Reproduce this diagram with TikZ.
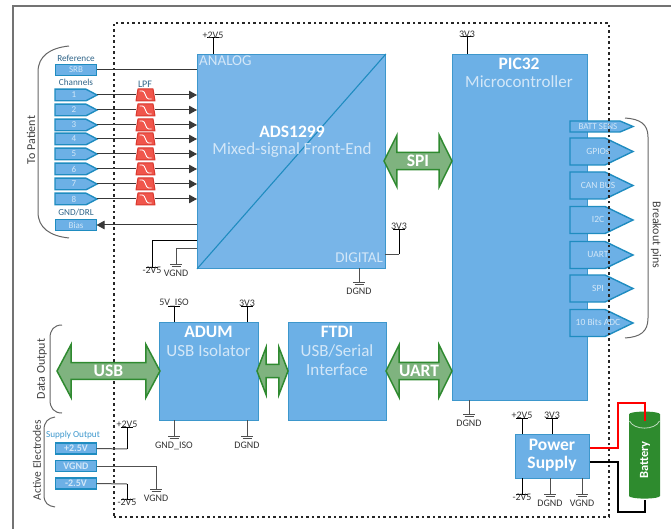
\documentclass[tikz,border=0pt]{standalone}
\usepackage{fontspec}
\setmainfont{Carlito}
\usetikzlibrary{shapes.geometric,shapes.arrows,arrows.meta,calc}
\definecolor{blockblue}{HTML}{6CB0E6}
\definecolor{adsblue}{HTML}{78B5E8}
\definecolor{edgeblue}{HTML}{3D97CC}
\definecolor{pinedge}{HTML}{1F8CC0}
\definecolor{subtext}{HTML}{D3E7F8}
\definecolor{greenfill}{HTML}{7FB37F}
\definecolor{greenedge}{HTML}{2F8A30}
\definecolor{battgreen}{HTML}{2E8B2E}
\definecolor{lpfred}{HTML}{F0564C}
\definecolor{lpfedge}{HTML}{D9382E}
\definecolor{labelblue}{HTML}{2F6488}
\definecolor{stem}{HTML}{505050}
\newcommand{\fsz}[1]{\fontsize{#1}{#1}\selectfont}
% supply rail: name, x, y of the tick, label, start point
\newcommand{\supplyrail}[5]{%
  \coordinate (#1) at (#2,#3);
  \draw[railline] (#5) -- (#1);
  \draw[railline] ([xshift=-6pt]#1) -- ([xshift=6pt]#1);
  \node[raillabel] (#1t) at ($(#1)+(0,-3)$) {#4};
}
% same, for a rail that points down: its label sits below the tick
\newcommand{\supplydown}[5]{%
  \coordinate (#1) at (#2,#3);
  \draw[railline] (#5) -- (#1);
  \draw[railline] ([xshift=-6pt]#1) -- ([xshift=6pt]#1);
  \node[raillabel] (#1t) at ($(#1)+(0,3.5)$) {#4};
}
% ground: name, x, y of the top bar, label, start point
\newcommand{\groundrail}[5]{%
  \coordinate (#1) at (#2,#3);
  \draw[gndline] (#5) -- (#1);
  \draw[gndline] ([xshift=-6pt]#1) -- ([xshift=6pt]#1);
  \draw[gndline] ([shift={(-4.5pt,-2pt)}]#1) -- ([shift={(4.5pt,-2pt)}]#1);
  \node[raillabel] (#1t) at ($(#1)+(0,9.5)$) {#4};
}
% arrow-shaped tag: name, x left, x body end, x tip, y centre, half height
\newcommand{\tagshape}[6]{%
  \draw[tagline] (#2,#5-#6) -- (#3,#5-#6) -- (#4,#5) -- (#3,#5+#6) -- (#2,#5+#6) -- cycle;
  \path (#2,#5) coordinate (#1w) (#4,#5) coordinate (#1);
}
\tikzset{
  block/.style={draw=edgeblue,line width=0.9pt,fill=blockblue,inner sep=0pt,anchor=north west},
  tagline/.style={draw=pinedge,line width=1.4pt,fill=blockblue,line join=miter},
  tagtext/.style={inner sep=0pt,text=subtext,font=\fsz{9.5}},
  flattag/.style={draw=pinedge,line width=1.4pt,fill=blockblue,inner sep=0pt,outer sep=0pt,
    minimum width=41pt,minimum height=11pt,text=subtext,font=\fsz{9}},
  lpfbox/.style={inner sep=0pt,outer sep=0pt,minimum width=19pt,minimum height=12pt},
  lpfshape/.style={draw=lpfedge,line width=1pt,fill=lpfred,line join=round},
  wire/.style={draw=stem!70!black,line width=1pt},
  railline/.style={draw=black,line width=1pt},
  gndline/.style={draw=stem,line width=1pt},
  raillabel/.style={inner sep=0pt,font=\fsz{10},text=black!80},
  sidelabel/.style={inner sep=0pt,font=\fsz{9.2},text=labelblue},
  vlabel/.style={inner sep=0pt,font=\fsz{12},text=black!75},
  brace/.style={draw=black!60,line width=1pt},
  title/.style={inner sep=0pt,font=\fsz{17.5}\bfseries,text=white},
  subtitle/.style={inner sep=0pt,font=\fsz{17},text=subtext},
  corner/.style={inner sep=0pt,font=\fsz{15},text=subtext},
  bus/.style={double arrow,draw=greenedge,line width=1.5pt,fill=greenfill,inner sep=0pt,outer sep=0pt,
    text=white,font=\fsz{17.5}\bfseries},
  inarrow/.style={-{Triangle[length=8pt,width=8.5pt]}},
}
\begin{document}
\begin{tikzpicture}[x=1pt,y=-1pt]
\useasboundingbox (0,0) rectangle (671,529);
% window edge
\draw[black!55,line width=1.3pt] (13,529) -- (13,6) -- (671,6);

% PIC32 and breakout pins sit under the dotted frame
\node[block,minimum width=135pt,minimum height=346pt] (pic) at (452,54) {};
\node[title] (pict) at (519,64) {PIC32};
\node[subtitle] (pics) at (519,82) {Microcontroller};
\tagshape{batt}{570}{620}{633}{126.5}{5.5}
\tagshape{gpio}{570}{605}{633}{151.5}{13.5}
\tagshape{can}{570}{605}{633}{185.5}{13.5}
\tagshape{itc}{570}{605}{633}{220}{13.5}
\tagshape{uart}{570}{605}{633}{255}{13.5}
\tagshape{spip}{570}{605}{633}{288.5}{13.5}
\tagshape{adc}{570}{605}{633}{323}{13.5}

% dotted isolation frame
\node[draw=black!85,line width=1.6pt,dash pattern=on 2.5pt off 3pt,inner sep=0pt,anchor=north west,
  minimum width=495pt,minimum height=494pt] (frame) at (113,22) {};

% breakout pin texts
\node[tagtext,font=\fsz{9}] (battt) at (598,126.5) {BATT SENS};
\node[tagtext] (gpiot) at (598,151) {GPIOs};
\node[tagtext] (cant) at (598,185) {CAN BUS};
\node[tagtext] (itct) at (598,219.5) {I2C};
\node[tagtext] (uartt) at (598,254.5) {UART};
\node[tagtext] (spipt) at (598,288) {SPI};
\node[tagtext] (adct) at (598,322) {10 Bits ADC};

% ADS1299
\node[block,fill=adsblue,minimum width=188pt,minimum height=214pt] (ads) at (197,54) {};
\draw[pinedge,line width=1.1pt] (ads.south west) -- (ads.north east);
\node[title] (adst) at (292,132) {ADS1299};
\node[subtitle] (adss) at (292,150) {Mixed-signal Front-End};
\node[corner,anchor=west] (adsa) at (199,61) {ANALOG};
\node[corner,anchor=east] (adsd) at (383,258) {DIGITAL};

% left connectors
\node[sidelabel] (reflab) at (76,58) {Reference};
\node[sidelabel] (chlab) at (76,82) {Channels};
\node[sidelabel] (gndlab) at (76,213) {GND/DRL};
\node[sidelabel,font=\fsz{10}] (lpflab) at (145,84) {LPF};
\node[flattag] (srb) at (76,70) {SRB};
\draw[wire] (srb.east) -- (srb.east -| ads.west);
\foreach \i/\y in {1/95,2/110,3/125,4/139,5/154,6/169,7/184,8/199}{
  \tagshape{ch\i}{55}{86}{97}{\y}{5.8}
  \node[tagtext,font=\fsz{9}] (ch\i t) at (74,\y) {\i};
  \node[lpfbox] (lp\i) at (145.5,\y) {};
  \draw[wire] (ch\i) -- (lp\i.west);
  \draw[wire,inarrow] (lp\i.east) -- (lp\i.east -| ads.west);
  \draw[lpfshape] ($(lp\i.center)+(-9.5,6)$) -- ($(lp\i.center)+(-7.5,-6)$) -- ($(lp\i.center)+(7.5,-6)$) -- ($(lp\i.center)+(9.5,6)$) -- cycle;
  \draw[white,line width=0.9pt] ($(lp\i.center)+(-6,-4)$) -- ($(lp\i.center)+(-3,-4)$)
     .. controls ($(lp\i.center)+(0,-4)$) and ($(lp\i.center)+(0,4)$) .. ($(lp\i.center)+(3,4)$) -- ($(lp\i.center)+(6,4)$);
}
\node[flattag] (bias) at (76,225) {Bias};
\coordinate (biasin) at (197,225);
\draw[wire,inarrow] (biasin) -- (bias.east);

% ADS supplies
\coordinate (adstop) at (213,54);
\supplyrail{advdd}{213}{38}{+2V5}{adstop}
\coordinate (a) at (197,240);
\coordinate (ab) at (152,240);
\draw[railline] (a) -- (ab);
\supplydown{avss}{152}{267}{-2V5}{ab}
\coordinate (b) at (197,248);
\coordinate (bb) at (176,248);
\draw[gndline] (b) -- (bb);
\groundrail{avgnd}{176}{264}{VGND}{bb}
\coordinate (dig) at (385,254);
\coordinate (digb) at (399,254);
\draw[gndline] (dig) -- (digb);
\supplyrail{dvdd}{399}{229}{3V3}{digb}
\coordinate (adsbot) at (359,268);
\groundrail{adsdg}{359}{282}{DGND}{adsbot}

% PIC supplies
\coordinate (pictop) at (467,54);
\supplyrail{picv}{467}{37}{3V3}{pictop}
\coordinate (picbot) at (469,400);
\groundrail{picdg}{469}{414}{DGND}{picbot}

% SPI
\node[bus,minimum height=68pt,minimum width=52pt,double arrow head extend=13pt,double arrow tip angle=127] (spi) at (418,161) {SPI};

% ADUM and FTDI
\node[block,minimum width=99pt,minimum height=98pt] (adum) at (159,322) {};
\node[title] (adumt) at (208.5,332) {ADUM};
\node[subtitle] (adums) at (208.5,351) {USB Isolator};
\node[block,minimum width=98pt,minimum height=98pt] (ftdi) at (288,322) {};
\node[title] (ftdit) at (337,332) {FTDI};
\node[subtitle] (ftdis) at (337,351) {USB/Serial};
\node[subtitle] (ftdii) at (337,370) {Interface};

\node[bus,minimum height=103pt,minimum width=53pt,double arrow head extend=14pt,double arrow tip angle=124] (usb) at (108.5,371) {USB};
\node[bus,minimum height=31pt,minimum width=47pt,double arrow head extend=12.5pt,double arrow tip angle=138] (iso) at (272.5,371) {\phantom{x}};
\node[bus,minimum height=66pt,minimum width=53pt,double arrow head extend=13.5pt,double arrow tip angle=127] (uartbus) at (419,371) {UART};

\coordinate (u1) at (174,322);
\supplyrail{isov}{174}{306}{5V\_ISO}{u1}
\coordinate (u2) at (247,322);
\supplyrail{usbv}{247}{306}{3V3}{u2}
\coordinate (u3) at (174,420);
\groundrail{isog}{174}{436}{GND\_ISO}{u3}
\coordinate (u4) at (247,420);
\groundrail{usbg}{247}{436}{DGND}{u4}

% active electrode supply
\node[sidelabel,text=edgeblue] (suplab) at (73,435) {Supply Output};
\node[flattag,font=\fsz{10}\bfseries] (p25) at (76,448.5) {+2.5V};
\node[flattag,font=\fsz{10}\bfseries] (vg) at (76,466) {VGND};
\node[flattag,font=\fsz{10}\bfseries] (m25) at (76,483.5) {-2.5V};
\coordinate (p25b) at (127,449);
\draw[gndline] (p25.east) -- (p25b);
\supplyrail{pout}{127}{427}{+2V5}{p25b}
\coordinate (vgb) at (156,466);
\draw[gndline] (vg.east) -- (vgb);
\groundrail{gout}{156}{489}{VGND}{vgb}
\coordinate (m25b) at (127,484);
\draw[gndline] (m25.east) -- (m25b);
\supplydown{mout}{127}{499}{-2V5}{m25b}

% power supply
\node[block,minimum width=74pt,minimum height=44pt] (psu) at (515,434) {};
\node[title] (psua) at (552,445) {Power};
\node[title] (psub) at (552,464) {Supply};
\coordinate (s1) at (522,434);
\supplyrail{sa}{522}{418}{+2V5}{s1}
\coordinate (s2) at (552,434);
\supplyrail{sb}{552}{418}{3V3}{s2}
\coordinate (s3) at (522,478);
\supplydown{sc}{522}{494}{-2V5}{s3}
\coordinate (s4) at (550,478);
\groundrail{sd}{550}{494}{DGND}{s4}
\coordinate (s5) at (582,478);
\groundrail{se}{582}{494}{VGND}{s5}

% battery
\node[cylinder,rotate=90,aspect=1.1,fill=battgreen,draw=none,inner sep=0pt,outer sep=0pt,
  minimum height=87pt,minimum width=31pt] (battery) at (644.5,456.5) {\phantom{x}};
\node[inner sep=0pt,rotate=90,text=white,font=\fsz{12.5}\bfseries] (batteryt) at (645,460) {Battery};
\draw[white!70!battgreen,line width=0.8pt] (629.5,421) .. controls (634,430.5) and (655,430.5) .. (659.5,421);
\coordinate (redtop) at (645,421);
\coordinate (blackbot) at (645,500);
\draw[red,line width=1.4pt] (psu.east |- 0,448) -- (618,448) -- (618,403) -- (645,403) -- (redtop);
\draw[black,line width=1.4pt] (psu.east |- 0,462) -- (618,462) -- (618,512) -- (645,512) -- (blackbot);

% braces and side titles
\draw[brace] (69,46) .. controls (50,48) and (38,56) .. (38,72) -- (38,212) .. controls (38,228) and (50,236) .. (69,238);
\node[vlabel,rotate=90] (topat) at (31,140) {To Patient};
\draw[brace] (62,325) .. controls (54,325) and (50,330) .. (50,338) -- (50,400) .. controls (50,408) and (54,413) .. (62,413);
\node[vlabel,rotate=90] (dataout) at (42,369) {Data Output};
\draw[brace] (55,417) .. controls (48,418) and (44,422) .. (44,430) -- (44,495) .. controls (44,503) and (48,506) .. (55,507);
\node[vlabel,rotate=90,font=\fsz{11.5}] (active) at (37,460) {Active Electrodes};
\draw[brace] (625,118) .. controls (640,119) and (648,124) .. (648,137) -- (648,318) .. controls (648,332) and (640,337) .. (625,338);
\node[vlabel,rotate=-90] (breakp) at (656,235) {Breakout pins};
\end{tikzpicture}
\end{document}
